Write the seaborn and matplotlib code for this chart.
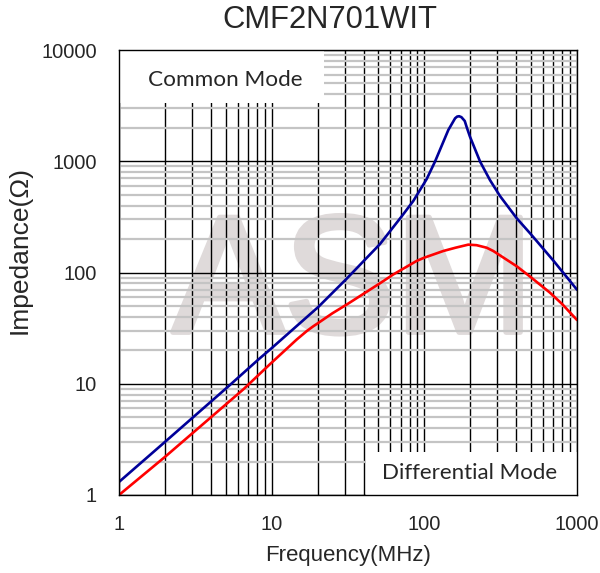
import matplotlib
matplotlib.use("Agg")
import matplotlib.pyplot as plt
import matplotlib.patheffects as pe
import seaborn as sns
import pandas as pd
from matplotlib.patches import Rectangle
from matplotlib.ticker import LogLocator, NullFormatter, FixedLocator, FixedFormatter

# ---------------- data ----------------
cm_freq = [1, 2, 5.33, 8.18, 10, 20.2, 31, 51.2, 71.1, 84.7, 103.5, 117.4,
           143.6, 159, 164, 169, 175, 184, 190, 199, 232, 269, 313, 403, 500, 700, 1000]
cm_imp = [1.31, 3.0, 9.75, 16.5, 20.9, 49, 88, 180, 320, 440, 690, 991,
          1910, 2432, 2520, 2540, 2490, 2300, 2000, 1663, 991, 678, 487, 307, 220, 128, 70]

dm_freq = [1, 2, 6.52, 9.75, 14.6, 17, 18.7, 20.2, 25, 31, 51.2, 62.6, 89, 100, 133,
           160, 194, 220, 256, 283, 402, 492, 664, 800, 1000]
dm_imp = [1.0, 2.2, 8.9, 15.0, 25.0, 29.8, 32.8, 35.2, 43, 51.5, 80, 96, 127, 136, 156,
          167, 178, 176, 167, 156, 114, 92, 66, 52, 37.4]

x_ticks = [1, 10, 100, 1000]
x_ticklabels = ["1", "10", "100", "1000"]
y_ticks = [1, 10, 100, 1000, 10000]
y_ticklabels = ["1", "10", "100", "1000", "10000"]

title = "CMF2N701WIT"
x_label = "Frequency(MHz)"
y_label = "Impedance(Ω)"
cm_label = "Common Mode"
dm_label = "Differential Mode"
watermark = "ASM"

# ---------------- style ----------------
sns.set_style("white")
plt.rcParams["font.family"] = ["Liberation Sans", "DejaVu Sans"]

cm_color = "#000099"
dm_color = "#FF0000"
wm_color = "#dfdada"

df = pd.concat([
    pd.DataFrame({"freq": cm_freq, "imp": cm_imp, "mode": cm_label}),
    pd.DataFrame({"freq": dm_freq, "imp": dm_imp, "mode": dm_label}),
], ignore_index=True)

fig = plt.figure(figsize=(6.0, 5.73), dpi=100)
pos = [119 / 600, (573 - 495) / 573, (577 - 119) / 600, (495 - 50) / 573]
ax = fig.add_axes(pos)

sns.lineplot(data=df, x="freq", y="imp", hue="mode", palette=[cm_color, dm_color],
             sort=False, estimator=None, linewidth=1.9, legend=False, ax=ax, zorder=3)
ax.set_xlabel("")
ax.set_ylabel("")

ax.set_xscale("log")
ax.set_yscale("log")
ax.set_xlim(1, 1000)
ax.set_ylim(1, 10000)

ax.set_axisbelow(True)
ax.xaxis.set_minor_locator(LogLocator(base=10, subs=range(2, 10)))
ax.yaxis.set_minor_locator(LogLocator(base=10, subs=range(2, 10)))
ax.grid(which="major", axis="both", color="black", linewidth=1.0)
ax.grid(which="minor", axis="x", color="black", linewidth=1.0)
ax.grid(which="minor", axis="y", color="#c4c4c4", linewidth=1.6)
ax.tick_params(which="both", length=0, labelleft=False, labelbottom=False)
for s in ax.spines.values():
    s.set_visible(False)

# watermark
ax.text(0.511, 0.366, watermark, transform=ax.transAxes, ha="center", va="baseline",
        fontsize=120, color=wm_color, zorder=0.2, family="Liberation Sans",
        path_effects=[pe.withStroke(linewidth=4, foreground=wm_color)])

# label boxes
ax.add_patch(Rectangle((0, 0.881), 0.448, 0.119, transform=ax.transAxes,
                       facecolor="white", edgecolor="none", zorder=1))
ax.add_patch(Rectangle((0.539, 0), 0.461, 0.097, transform=ax.transAxes,
                       facecolor="white", edgecolor="none", zorder=1))
ax.text(0.231, 0.933, cm_label, transform=ax.transAxes, ha="center", va="center",
        fontsize=16.2, family=["Lato", "DejaVu Sans"], zorder=4)
ax.text(0.766, 0.049, dm_label, transform=ax.transAxes, ha="center", va="center",
        fontsize=16, family=["Lato", "DejaVu Sans"], zorder=4)

# overlay axes for ticks, spines and tick labels
ax2 = fig.add_axes(pos, sharex=ax, sharey=ax)
ax2.patch.set_visible(False)
ax2.grid(False)
for s in ax2.spines.values():
    s.set_visible(True)
    s.set_color("black")
    s.set_linewidth(1.0)
ax2.xaxis.set_major_locator(FixedLocator(x_ticks))
ax2.xaxis.set_major_formatter(FixedFormatter(x_ticklabels))
ax2.yaxis.set_major_locator(FixedLocator(y_ticks))
ax2.yaxis.set_major_formatter(FixedFormatter(y_ticklabels))
ax2.xaxis.set_minor_locator(LogLocator(base=10, subs=range(2, 10)))
ax2.yaxis.set_minor_locator(LogLocator(base=10, subs=range(2, 10)))
ax2.xaxis.set_minor_formatter(NullFormatter())
ax2.yaxis.set_minor_formatter(NullFormatter())
ax2.tick_params(which="both", direction="in", length=4, width=1, color="black",
                labelsize=14.5, top=False, right=False)
ax2.tick_params(axis="y", which="major", pad=16)
ax2.tick_params(axis="x", which="major", pad=14.5)
ax2.set_xlim(1, 1000)
ax2.set_ylim(1, 10000)

fig.text(330 / 600, 1 - 20 / 573, title, ha="center", va="center", fontsize=22.3)
fig.text(348 / 600, 1 - 555 / 573, x_label, ha="center", va="center", fontsize=16)
fig.text(20 / 600, 1 - 250 / 573, y_label, ha="center", va="center", fontsize=19,
         rotation=90)

fig.savefig("out.png", dpi=100, facecolor="white")
